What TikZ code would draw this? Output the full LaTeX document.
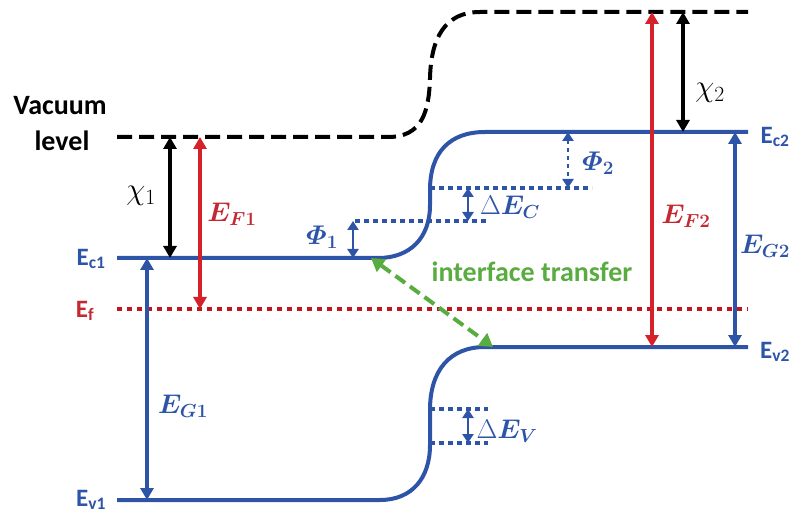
\RequirePackage{fix-cm}
\documentclass[tikz,border=0pt]{standalone}
\usepackage{amsmath}
\usepackage{fontspec}
\setmainfont{Carlito}
\usetikzlibrary{arrows.meta}
\definecolor{bblue}{RGB}{46,84,168}
\definecolor{rred}{RGB}{214,32,42}
\definecolor{lred}{RGB}{196,40,48}
\definecolor{dred}{RGB}{192,22,30}
\definecolor{ggreen}{RGB}{88,172,64}
\tikzset{
  level/.style={line width=4pt,bblue},
  vac/.style={line width=4pt,black,dash pattern=on 15pt off 7pt},
  fermi/.style={line width=4pt,dred,dash pattern=on 5pt off 5pt},
  aux/.style={line width=3.5pt,bblue,dash pattern=on 5pt off 4pt},
  bigarr/.style={line width=3.5pt,{Triangle[width=13pt,length=12pt]}-{Triangle[width=13pt,length=12pt]}},
  smallarr/.style={line width=2.5pt,bblue,{Triangle[width=11pt,length=9pt]}-{Triangle[width=11pt,length=9pt]}},
  txt/.style={inner sep=0pt,font=\fontsize{25}{29}\selectfont\bfseries},
  bigtxt/.style={inner sep=0pt,font=\fontsize{28}{32}\selectfont\bfseries},
  mlab/.style={inner sep=0pt,font=\fontsize{27}{31}\selectfont},
  chilab/.style={inner sep=0pt,font=\fontsize{31}{35}\selectfont},
}
\begin{document}
\begin{tikzpicture}[x=1pt,y=-1pt]
\useasboundingbox (0,0) rectangle (793,513);
% levels
\draw[vac] (117,137) -- (388,137) .. controls (422,137) and (429,112) .. (430,78)
  .. controls (431,38) and (445,12) .. (480,12) -- (748,12);
\draw[level] (117,258) -- (378,258) .. controls (410,258) and (430,238) .. (430,205)
  -- (430,190) .. controls (430,152) and (450,132) .. (485,132) -- (748,132);
\draw[level] (117,500) -- (380,500) .. controls (412,500) and (430,478) .. (430,445)
  -- (430,410) .. controls (430,370) and (450,347) .. (485,347) -- (748,347);
\draw[fermi] (117,309) -- (748,309);
% auxiliary dotted lines
\draw[aux] (355,221) -- (487,221);
\draw[aux] (430,188) -- (592,188);
\draw[aux] (430,409) -- (488,409);
\draw[aux] (430,443) -- (488,443);
% arrow end points
\coordinate (x1t) at (170,137); \coordinate (x1b) at (170,258);
\coordinate (f1t) at (200,137); \coordinate (f1b) at (200,309);
\coordinate (g1t) at (147,258); \coordinate (g1b) at (147,500);
\coordinate (f2t) at (652,12);  \coordinate (f2b) at (652,347);
\coordinate (x2t) at (683,12);  \coordinate (x2b) at (683,132);
\coordinate (g2t) at (735,132); \coordinate (g2b) at (735,347);
\coordinate (p1t) at (353,221); \coordinate (p1b) at (353,258);
\coordinate (ect) at (468,188); \coordinate (ecb) at (468,221);
\coordinate (p2t) at (568,132); \coordinate (p2b) at (568,188);
\coordinate (evt) at (468,409); \coordinate (evb) at (468,443);
\coordinate (itA) at (371,258); \coordinate (itB) at (493,347);
% arrows
\draw[bigarr,black] (x1t) -- (x1b);
\draw[bigarr,rred] (f1t) -- (f1b);
\draw[bigarr,bblue] (g1t) -- (g1b);
\draw[bigarr,rred] (f2t) -- (f2b);
\draw[bigarr,black] (x2t) -- (x2b);
\draw[bigarr,bblue] (g2t) -- (g2b);
\draw[smallarr] (p1t) -- (p1b);
\draw[smallarr] (ect) -- (ecb);
\draw[smallarr,dash pattern=on 4pt off 4pt] (p2t) -- (p2b);
\draw[smallarr] (evt) -- (evb);
\draw[line width=4pt,ggreen,dash pattern=on 12pt off 6pt,{Triangle[width=15pt,length=13pt]}-{Triangle[width=15pt,length=13pt]}] (itA) -- (itB);
% labels
\node[bigtxt] (vac1) at (60,106) {Vacuum};
\node[bigtxt] (vac2) at (62,141) {level};
\node[txt,bblue] (ec1) at (91,259) {E\textsubscript{c1}};
\node[txt,lred] (ef) at (85,311) {E\textsubscript{f}};
\node[txt,bblue] (ev1) at (91,500) {E\textsubscript{v1}};
\node[txt,bblue] (ec2) at (775,137) {E\textsubscript{c2}};
\node[txt,bblue] (ev2) at (775,352) {E\textsubscript{v2}};
\node[chilab] (chi1) at (141,196) {$\chi_1$};
\node[mlab,lred] (ef1) at (232,214) {$\boldsymbol{E_{F1}}$};
\node[mlab,bblue] (eg1) at (183,406) {$\boldsymbol{E_{G1}}$};
\node[mlab,bblue] (phi1) at (322,237) {$\boldsymbol{\varPhi_{1}}$};
\node[mlab,bblue] (dec) at (510,207) {$\Delta\boldsymbol{E_{C}}$};
\node[mlab,bblue] (phi2) at (598,163) {$\boldsymbol{\varPhi_{2}}$};
\node[chilab] (chi2) at (710,93) {$\chi_2$};
\node[mlab,lred] (ef2) at (686,216) {$\boldsymbol{E_{F2}}$};
\node[mlab,bblue] (eg2) at (765,246) {$\boldsymbol{E_{G2}}$};
\node[mlab,bblue] (dev) at (507,431) {$\Delta\boldsymbol{E_{V}}$};
\node[bigtxt,ggreen] (itr) at (532,272) {interface transfer};
\end{tikzpicture}
\end{document}
